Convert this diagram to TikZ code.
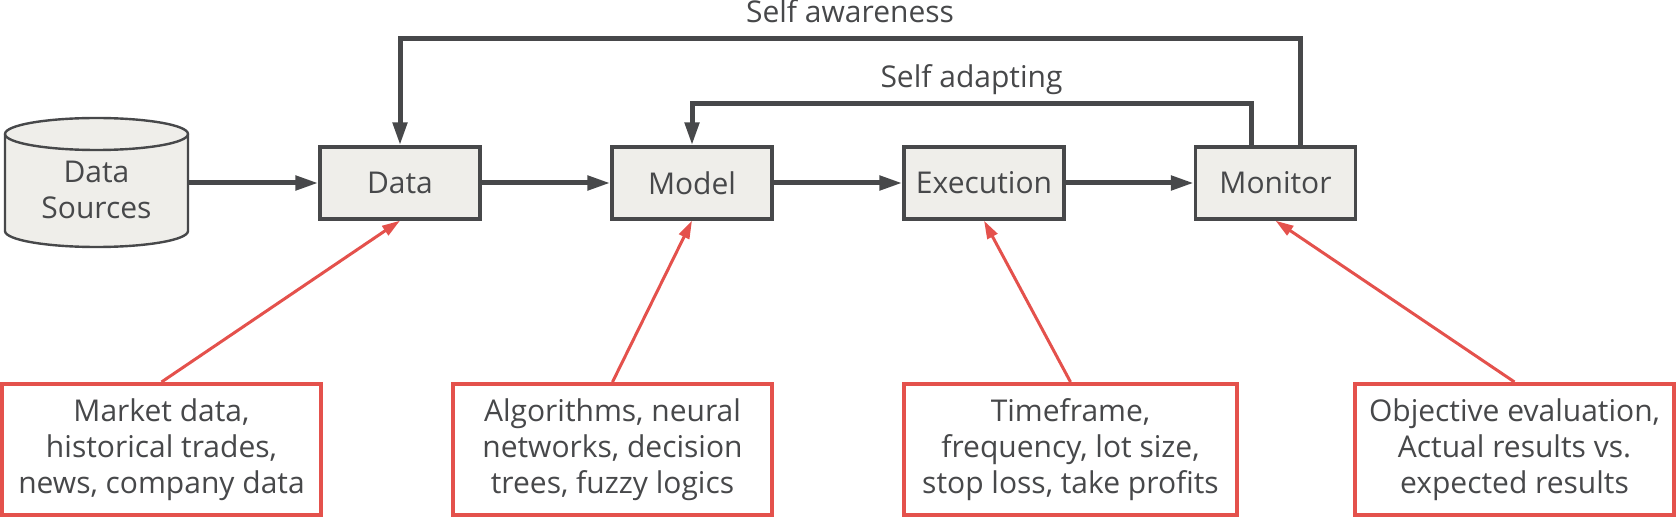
\documentclass[tikz,border=0pt]{standalone}
\usepackage{fontspec}
\setmainfont{Open Sans}
\usetikzlibrary{arrows.meta}
\definecolor{ink}{HTML}{47484A}
\definecolor{boxfill}{HTML}{EFEEEA}
\definecolor{hint}{HTML}{E4514C}

\begin{document}
\begin{tikzpicture}[x=0.5pt,y=-0.5pt,
  every node/.style={font=\fontsize{15}{18}\selectfont, text=ink},
  stage/.style={draw=ink, line width=1.7pt, fill=boxfill, minimum width=80pt, minimum height=36pt, inner sep=0pt},
  note/.style={draw=hint, line width=2pt, fill=white, align=center, minimum width=159.5pt, minimum height=65.5pt, inner sep=0pt},
  drum/.style={draw=ink, line width=1.2pt, fill=boxfill},
  flow/.style={draw=ink, line width=2.5pt, -{Triangle[length=11.5pt,width=7pt]}},
  link/.style={draw=hint, line width=1.5pt, -{Triangle[length=9pt,width=5.5pt]}}]
\useasboundingbox (0,0) rectangle (1676,518);

\filldraw [drum] (5,134) -- (5,231) arc [start angle=180, end angle=0, x radius=91.5, y radius=16]
  -- (188,134) arc [start angle=0, end angle=-180, x radius=91.5, y radius=16] -- cycle;
\draw [drum, fill=none] (5,134) arc [start angle=180, end angle=0, x radius=91.5, y radius=16];
\node [align=center, minimum width=91.5pt, inner sep=0pt] (src) at (96.5,190) {Data\\Sources};
\node [stage] (data) at (400,183) {Data};
\node [stage] (model) at (692,183) {Model};
\node [stage] (exec) at (984,183) {Execution};
\node [stage] (mon) at (1275.5,183) {Monitor};

\node [note] (market) at (161.5,449.5) {Market data,\\historical trades,\\news, company data};
\node [note] (algo) at (612.5,449.5) {Algorithms, neural\\networks, decision\\trees, fuzzy logics};
\node [note, minimum width=166.5pt] (params) at (1070.5,449.5) {Timeframe,\\frequency, lot size,\\stop loss, take profits};
\node [note] (eval) at (1514.5,449.5) {Objective evaluation,\\Actual results vs.\\expected results};

\draw [flow] (src.east |- data.west) -- (data);
\draw [flow] (data) -- (model);
\draw [flow] (model) -- (exec);
\draw [flow] (exec) -- (mon);

\coordinate (aware) at (400,39);
\coordinate (adapt) at (692,104);
\draw [flow] ([xshift=12.25pt]mon.north) |- node [pos=0.75, anchor=base, yshift=8pt] {Self awareness} (aware) -- (data.north);
\draw [flow] ([xshift=-12.25pt]mon.north) |- node [pos=0.75, anchor=base, yshift=8pt] {Self adapting} (adapt) -- (model.north);

\draw [link] (market.north) -- (data.south);
\draw [link] (algo.north) -- (model.south);
\draw [link] (params.north) -- (exec.south);
\draw [link] (eval.north) -- (mon.south);
\end{tikzpicture}
\end{document}
